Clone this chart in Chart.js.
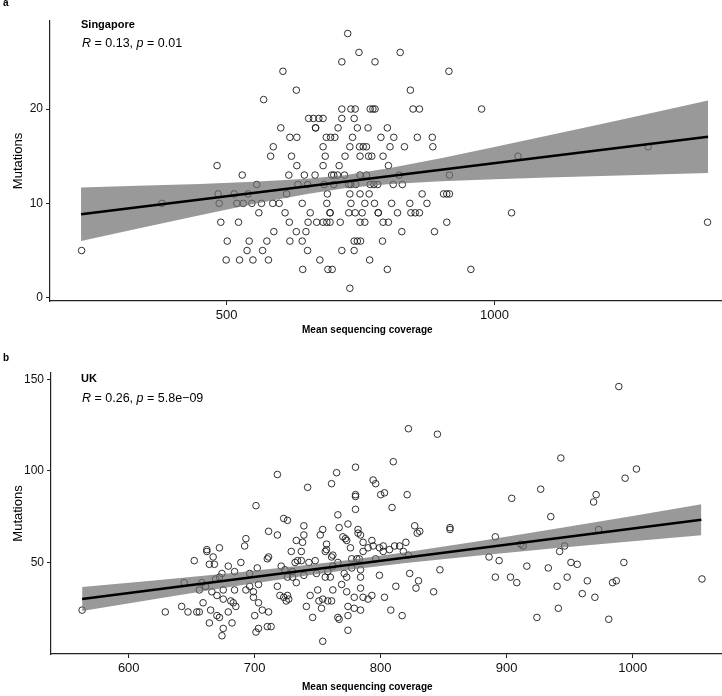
<!DOCTYPE html>
<html>
<head>
<meta charset="utf-8">
<script src="https://cdn.jsdelivr.net/npm/chart.js@4.4.0/dist/chart.umd.min.js"></script>
<style>
  body { margin: 0; background: #fff; font-family: "Liberation Sans", Arial, Helvetica, sans-serif; }
  #wrap { position: relative; width: 722px; height: 696px; overflow: hidden; }
  canvas { position: absolute; left: 0; }
  .lbl { position: absolute; color: #000; white-space: nowrap; line-height: 1; }
  .panel { font-weight: bold; font-size: 10px; }
  .group { font-weight: bold; font-size: 11px; }
  .stat { font-size: 12.5px; }
  .xtitle { font-weight: bold; font-size: 10px; }
</style>
</head>
<body>
<div id="wrap">
  <canvas id="chartA" width="722" height="340" style="top:0"></canvas>
  <canvas id="chartB" width="722" height="356" style="top:340px"></canvas>

  <div class="lbl panel" style="left:3px; top:-2px">a</div>
  <div class="lbl group" style="left:81px; top:18.6px">Singapore</div>
  <div class="lbl stat" style="left:82px; top:36.7px"><i>R</i> = 0.13, <i>p</i> = 0.01</div>
  <div class="lbl xtitle" style="left:302px; top:325.4px">Mean sequencing coverage</div>

  <div class="lbl panel" style="left:3px; top:352.5px">b</div>
  <div class="lbl group" style="left:81px; top:372.9px">UK</div>
  <div class="lbl stat" style="left:82px; top:391.7px"><i>R</i> = 0.26, <i>p</i> = 5.8e−09</div>
  <div class="lbl xtitle" style="left:302px; top:682px">Mean sequencing coverage</div>
</div>

<script>
// ---- Singapore (panel a) ----
const sgCoverage = [
  726,
  747, 824,
  715, 777,
  605, 915,
  630, 843,
  569,
  715, 732, 740, 768, 773, 777, 848, 860, 976,
  653, 662, 672, 680, 715, 738,
  601, 666, 666, 708, 744, 764, 800,
  618, 631, 686, 694, 702, 735, 788, 812, 856, 884,
  587, 680, 730, 748, 755, 761, 805, 832, 885, 1287,
  582, 621, 684, 721, 749, 765, 771, 792, 1044,
  482, 631, 680, 710, 802,
  529, 616, 645, 665, 696, 700, 707, 720, 749, 761, 822, 916,
  556, 633, 651, 682, 700, 728, 732, 741, 768, 775, 782, 811, 828,
  484, 514, 540, 612, 688, 730, 749, 766, 865, 905, 911, 916,
  379, 486, 519, 531, 547, 565, 586, 598, 641, 687, 732, 758, 776, 808, 842, 874,
  560, 609, 656, 693, 693, 728, 740, 753, 783, 783, 819, 844, 852, 860, 1032,
  489, 522, 617, 652, 668, 680, 687, 693, 712, 749, 758, 792, 802, 911, 1398,
  588, 630, 648, 827, 888,
  501, 542, 575, 618, 641, 738, 744, 750, 791,
  229, 538, 567, 651, 715, 738,
  499, 524, 549, 578, 674, 767,
  642, 689, 697, 800, 956,
  730
];
const sgMutations = [
  28,
  26, 26,
  25, 25,
  24, 24,
  22, 22,
  21,
  20, 20, 20, 20, 20, 20, 20, 20, 20,
  19, 19, 19, 19, 19, 19,
  18, 18, 18, 18, 18, 18, 18,
  17, 17, 17, 17, 17, 17, 17, 17, 17, 17,
  16, 16, 16, 16, 16, 16, 16, 16, 16, 16,
  15, 15, 15, 15, 15, 15, 15, 15, 15,
  14, 14, 14, 14, 14,
  13, 13, 13, 13, 13, 13, 13, 13, 13, 13, 13, 13,
  12, 12, 12, 12, 12, 12, 12, 12, 12, 12, 12, 12, 12,
  11, 11, 11, 11, 11, 11, 11, 11, 11, 11, 11, 11,
  10, 10, 10, 10, 10, 10, 10, 10, 10, 10, 10, 10, 10, 10, 10, 10,
  9, 9, 9, 9, 9, 9, 9, 9, 9, 9, 9, 9, 9, 9, 9,
  8, 8, 8, 8, 8, 8, 8, 8, 8, 8, 8, 8, 8, 8, 8,
  7, 7, 7, 7, 7,
  6, 6, 6, 6, 6, 6, 6, 6, 6,
  5, 5, 5, 5, 5, 5,
  4, 4, 4, 4, 4, 4,
  3, 3, 3, 3, 3,
  1
];
const sgFitX = [228, 1399];
const sgFitY = [8.84, 17.06];
const sgBandX     = [228, 350, 450, 550, 650, 720, 800, 900, 1000, 1100, 1200, 1300, 1399];
const sgBandUpper = [11.67, 11.88, 12.06, 12.28, 12.60, 12.99, 13.69, 14.78, 15.97, 17.19, 18.42, 19.67, 20.91];
const sgBandLower = [6.01, 7.52, 8.74, 9.92, 11.00, 11.59, 12.03, 12.34, 12.55, 12.73, 12.90, 13.07, 13.21];
const sgXTicks = [500, 1000];
const sgYTicks = [0, 10, 20];

// ---- UK (panel b) ----
const ukCoverage = [
  989, 822, 845, 943, 810, 1003, 780, 765, 718, 994, 794, 761, 796, 742, 927,
  803, 780, 780, 800, 821, 971, 904, 969, 701, 809, 780, 766, 935, 723, 726,
  827, 829, 831, 855, 855, 891, 911, 913, 973, 946, 942,
  802, 799, 802, 807, 811, 815, 818, 820, 822,
  886, 894, 916, 933, 951, 956, 993, 847, 799, 823, 830, 828, 812, 842,
  891, 903, 908, 940, 948, 964, 960, 970, 984, 987, 1055, 803,
  784, 786, 786, 790, 793, 794, 796, 784, 784, 784, 786, 790, 793, 784, 808, 817, 924, 941, 981,
  563, 629, 642, 644, 647, 652, 654, 656, 656, 658, 659, 662, 662, 661, 664, 665, 664, 668,
  667, 666, 669, 670, 670, 672, 672, 672, 674, 675, 675, 675, 674, 679, 679, 681, 683, 685,
  682, 684, 684, 689, 693, 692, 693, 696, 696, 699, 699, 700, 701, 702, 703, 703, 703, 706,
  710, 711, 710, 713, 711, 711, 718, 718, 720, 723, 725, 727, 726, 721, 724, 726, 730, 730,
  729, 732, 733, 733, 734, 737, 737, 738, 739, 739, 739, 741, 743, 744, 746, 748, 749, 750,
  751, 753, 752, 754, 754, 754, 756, 757, 757, 756, 758, 761, 760, 758, 761, 762, 762, 762,
  766, 766, 767, 767, 769, 770, 772, 773, 771, 773, 773, 774, 774, 774, 774, 776, 777, 777,
  779, 779, 782, 782, 781, 783
];
const ukMutations = [
  146, 123, 120, 107, 105, 101, 102, 99, 98, 96, 95, 93, 93, 91, 90,
  88, 87, 86, 87, 87, 87, 85, 83, 81, 80, 79, 76, 75, 74, 73,
  70, 66, 67, 69, 68, 64, 60, 59, 68, 59, 56,
  59, 58, 56, 57, 59, 59, 56, 61, 54,
  53, 51, 48, 47, 50, 49, 50, 46, 43, 44, 40, 36, 37, 34,
  42, 42, 39, 37, 42, 40, 33, 31, 39, 40, 41, 31,
  65, 61, 56, 58, 62, 59, 52, 46, 42, 36, 31, 30, 32, 24, 24, 21, 20, 25, 19,
  24, 23, 26, 39, 23, 51, 23, 23, 35, 39, 28, 57, 56, 37, 17, 24, 49, 49,
  53, 34, 41, 32, 21, 20, 58, 42, 44, 35, 30, 14, 10, 48, 23, 29, 28, 26,
  17, 45, 35, 50, 63, 59, 35, 44, 37, 34, 31, 21, 12, 47, 28, 38, 14, 24,
  52, 53, 15, 15, 23, 67, 65, 37, 32, 31, 29, 30, 32, 48, 46, 42, 45, 42,
  56, 50, 62, 39, 51, 51, 56, 61, 65, 70, 43, 26, 50, 32, 20, 51, 44, 35,
  29, 25, 65, 68, 30, 7, 56, 57, 60, 42, 29, 29, 42, 45, 53, 54, 48, 35,
  50, 20, 19, 69, 38, 64, 63, 62, 44, 42, 34, 71, 26, 21, 13, 58, 52, 47,
  25, 31, 68, 66, 52, 52
];
const ukFitX = [563, 1054.5];
const ukFitY = [30.04, 73.3];
const ukBandX     = [563, 620, 680, 740, 775, 820, 880, 940, 1000, 1054.5];
const ukBandUpper = [36.59, 40.18, 44.11, 48.44, 51.35, 55.60, 61.92, 68.58, 75.39, 81.8];
const ukBandLower = [23.49, 29.94, 36.57, 42.80, 46.05, 49.72, 53.96, 57.86, 61.61, 64.8];
const ukXTicks = [600, 700, 800, 900, 1000];
const ukYTicks = [50, 100, 150];

const FONT = '"Liberation Sans", Arial, Helvetica, sans-serif';
const pairs = (xs, ys) => xs.map((x, i) => ({ x: x, y: ys[i] }));

function makePanel(id, p) {
  return new Chart(document.getElementById(id), {
    type: 'scatter',
    data: {
      datasets: [
        { type: 'line', data: pairs(p.fitX, p.fitY), borderColor: '#000', borderWidth: 2.4,
          pointRadius: 0, fill: false, order: 1 },
        { type: 'line', data: pairs(p.bandX, p.bandUpper), borderColor: 'rgba(0,0,0,0)', borderWidth: 0,
          backgroundColor: 'rgba(110,110,110,0.7)', pointRadius: 0, fill: '+1', order: 2 },
        { type: 'line', data: pairs(p.bandX, p.bandLower), borderColor: 'rgba(0,0,0,0)', borderWidth: 0,
          pointRadius: 0, fill: false, order: 2 },
        { data: pairs(p.xs, p.ys), pointRadius: 3.3, borderColor: '#1a1a1a', borderWidth: 0.9,
          backgroundColor: 'rgba(0,0,0,0)', order: 3 }
      ]
    },
    options: {
      responsive: false,
      animation: false,
      layout: { autoPadding: false, padding: { top: p.top, left: 0, right: 0, bottom: 0 } },
      plugins: { legend: { display: false }, tooltip: { enabled: false } },
      scales: {
        x: {
          type: 'linear', min: p.xMin, max: p.xMax,
          afterBuildTicks: s => { s.ticks = p.xTicks.map(v => ({ value: v })); },
          afterFit: s => { s.height = p.xHeight; },
          grid: { drawOnChartArea: false, drawTicks: true, tickLength: 4, color: '#222', lineWidth: 1 },
          border: { display: true, color: '#222', width: 1.2 },
          ticks: { font: { family: FONT, size: 13 }, color: '#111', padding: 3, maxRotation: 0,
                   callback: v => String(v) }
        },
        y: {
          type: 'linear', min: p.yMin, max: p.yMax,
          afterBuildTicks: s => { s.ticks = p.yTicks.map(v => ({ value: v })); },
          afterFit: s => { s.width = p.yWidth; },
          grid: { drawOnChartArea: false, drawTicks: true, tickLength: 4, color: '#222', lineWidth: 1 },
          border: { display: true, color: '#222', width: 1.2 },
          ticks: { font: { family: FONT, size: 12 }, color: '#111', padding: 3, callback: v => String(v) },
          title: { display: true, text: 'Mutations', font: { family: FONT, size: 13 }, color: '#000',
                   padding: { top: 11, bottom: 0 } }
        }
      }
    }
  });
}

makePanel('chartA', {
  xs: sgCoverage, ys: sgMutations, fitX: sgFitX, fitY: sgFitY,
  bandX: sgBandX, bandUpper: sgBandUpper, bandLower: sgBandLower,
  xTicks: sgXTicks, yTicks: sgYTicks,
  xMin: 170, xMax: 1425, yMin: -0.35, yMax: 29.33,
  top: 21, xHeight: 39, yWidth: 50
});

makePanel('chartB', {
  xs: ukCoverage, ys: ukMutations, fitX: ukFitX, fitY: ukFitY,
  bandX: ukBandX, bandUpper: ukBandUpper, bandLower: ukBandLower,
  xTicks: ukXTicks, yTicks: ukYTicks,
  xMin: 538.3, xMax: 1070.9, yMin: 0.05, yMax: 153.4,
  top: 33, xHeight: 42, yWidth: 51
});
</script>
</body>
</html>
